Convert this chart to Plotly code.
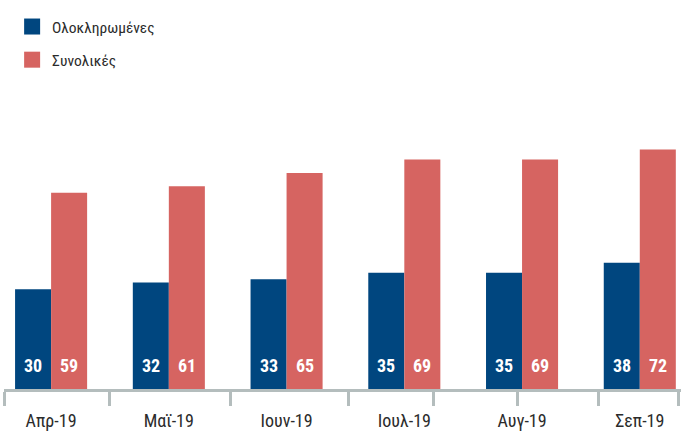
import plotly.graph_objects as go

categories = ["Απρ-19", "Μαϊ-19", "Ιουν-19", "Ιουλ-19", "Αυγ-19", "Σεπ-19"]
completed = [30, 32, 33, 35, 35, 38]
total = [59, 61, 65, 69, 69, 72]
series_names = ["Ολοκληρωμένες", "Συνολικές"]

BLUE = "#00467F"
RED = "#D66461"
FONT = "Roboto Condensed, Liberation Sans Narrow, DejaVu Sans Condensed, Roboto, sans-serif"

xpos = list(range(len(categories)))
bw = 0.306

fig = go.Figure()
fig.add_trace(go.Bar(x=xpos, y=completed, width=bw, offset=-bw, marker_color=BLUE,
                     marker_line_width=0, showlegend=False, hoverinfo="skip"))
fig.add_trace(go.Bar(x=xpos, y=total, width=bw, offset=0, marker_color=RED,
                     marker_line_width=0, showlegend=False, hoverinfo="skip"))
for name, col in zip(series_names, [BLUE, RED]):
    fig.add_trace(go.Scatter(x=[None], y=[None], mode="markers", name=name, legendgroup=name,
                             marker=dict(symbol="square", size=16, color=col)))

annotations = []
for i in xpos:
    for val, off in ((completed[i], -bw / 2), (total[i], bw / 2)):
        annotations.append(dict(x=i + off, y=0, xref="x", yref="y", text=str(val), showarrow=False,
                                yanchor="bottom", xanchor="center", yshift=11,
                                font=dict(color="white", size=18, family=FONT, weight="bold")))

fig.update_layout(
    width=683, height=432,
    margin=dict(l=4, r=2, t=123, b=43),
    paper_bgcolor="white", plot_bgcolor="white",
    font=dict(family=FONT, color="#333333", size=16),
    barmode="overlay",
    annotations=annotations,
    legend=dict(x=0.012, y=1.425, xanchor="left", yanchor="top", xref="paper", yref="paper",
                font=dict(size=15.5, color="#2b2b2b"), tracegroupgap=10, bgcolor="rgba(0,0,0,0)"),
    xaxis=dict(range=[-0.40, 5.35], tickmode="array", tickvals=xpos, ticktext=categories,
               ticks="", showgrid=False, zeroline=False, showline=True, linecolor="#B4BDBD",
               linewidth=3, ticklabelstandoff=13,
               tickfont=dict(size=18, color="#2b2b2b"),
               minor=dict(tickmode="array", tickvals=[-0.40, 0.50, 1.52, 2.53, 3.25, 3.96, 4.65, 5.33],
                          ticks="outside", ticklen=14, tickwidth=3, tickcolor="#B4BDBD", showgrid=False)),
    yaxis=dict(range=[0, 80], visible=False),
)

fig.write_html("out.html", config={"displayModeBar": False},
               post_script="document.body.style.margin='0';document.body.style.overflow='hidden';")
